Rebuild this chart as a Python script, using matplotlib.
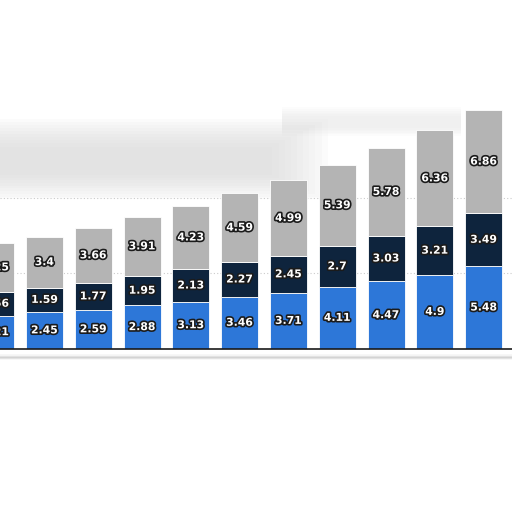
import matplotlib

matplotlib.use("Agg")
import matplotlib.pyplot as plt
import matplotlib.patheffects as pe
import numpy as np

# values (first bar is cut off at the left edge)
blue_vals = [2.21, 2.45, 2.59, 2.88, 3.13, 3.46, 3.71, 4.11, 4.47, 4.9, 5.48]
navy_vals = [1.56, 1.59, 1.77, 1.95, 2.13, 2.27, 2.45, 2.7, 3.03, 3.21, 3.49]
gray_vals = [3.25, 3.4, 3.66, 3.91, 4.23, 4.59, 4.99, 5.39, 5.78, 6.36, 6.86]
grid_levels = [5, 10]

BLUE = "#2d77d8"
NAVY = "#0e243d"
GRAY = "#b4b4b4"

fig = plt.figure(figsize=(5.12, 5.12), dpi=100)
ax = fig.add_axes([0, 0, 1, 1])

# blurred card edge in the background (soft layers)
for i in range(10):
    ax.axhspan(9.9 + i * 0.18, 15.2 - i * 0.2, xmin=0, xmax=0.64 - i * 0.012,
               color="#d0d0d0", alpha=0.07, lw=0, zorder=0)
for i in range(6):
    ax.axhspan(14.6 - i * 0.1, 15.4 + i * 0.12, xmin=0.55, xmax=0.9,
               color="#d6d6d6", alpha=0.06, lw=0, zorder=0)
for lw, a in ((4, 0.12), (2, 0.2), (1, 0.3)):
    ax.axhline(-0.55, color="#aaaaaa", lw=lw, alpha=a, zorder=0)

for y in grid_levels:
    ax.axhline(y, color="#cccccc", lw=0.8, ls=(0, (1, 2)), zorder=1)

x = np.arange(len(blue_vals))
blue = np.array(blue_vals)
navy = np.array(navy_vals)
gray = np.array(gray_vals)
w = 0.76
ax.bar(x, blue, w, color=BLUE, edgecolor="white", lw=0.6, zorder=2)
ax.bar(x, navy, w, bottom=blue, color=NAVY, edgecolor="white", lw=0.6, zorder=2)
ax.bar(x, gray, w, bottom=blue + navy, color=GRAY, edgecolor="white", lw=0.6, zorder=2)
ax.axhline(0, color="#1a1a1a", lw=1.2, zorder=3)

stroke = [pe.withStroke(linewidth=2.4, foreground="#1b1b1b")]
for xi, b, n, g in zip(x, blue_vals, navy_vals, gray_vals):
    for val, base in ((b, 0), (n, b), (g, b + n)):
        ax.text(xi, base + val / 2, f"{val:g}", ha="center", va="center",
                color="white", fontsize=7.8, fontweight="bold",
                path_effects=stroke, zorder=4)

ax.set_xlim(0.088, 10.58)
ax.set_ylim(-10.8, 23.1)
ax.axis("off")

fig.savefig("out.png", dpi=100)
